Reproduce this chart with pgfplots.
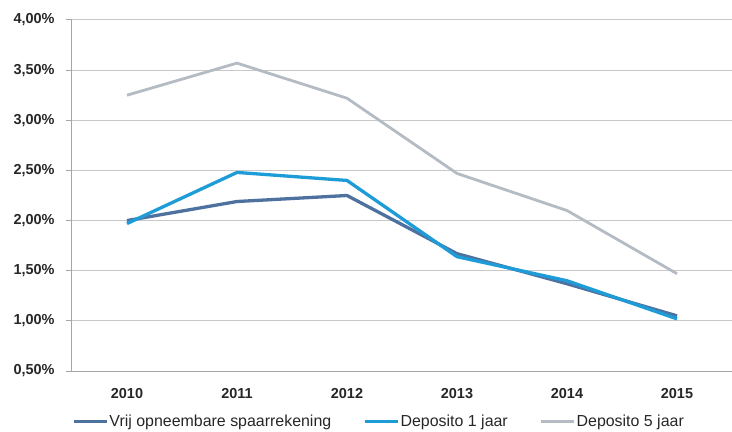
\documentclass[border=0pt]{standalone}
\usepackage{fontspec}
\setmainfont{Liberation Sans}
\usepackage{pgfplots}
\pgfplotsset{compat=1.18}
\definecolor{cdark}{HTML}{4E72A0}
\definecolor{clight}{HTML}{1E9CD7}
\definecolor{cgray}{HTML}{B4BBC3}
\definecolor{cgrid}{HTML}{C8C8C8}
\definecolor{caxis}{HTML}{A6A6A6}
\begin{document}
\begin{tikzpicture}
\begin{axis}[
  scale only axis,
  width=660bp, height=351bp,
  xmin=-0.5, xmax=5.5,
  ymin=0.5, ymax=4,
  axis x line*=bottom,
  axis y line*=left,
  axis line style={caxis, line width=1bp},
  xtick={0,1,2,3,4,5},
  xticklabels={2010,2011,2012,2013,2014,2015},
  ytick={0.5,1,1.5,2,2.5,3,3.5,4},
  yticklabels={{0,50\%},{1,00\%},{1,50\%},{2,00\%},{2,50\%},{3,00\%},{3,50\%},{4,00\%}},
  ymajorgrids,
  grid style={cgrid, line width=1bp},
  tick align=outside,
  major tick length=6bp,
  tick style={caxis, line width=1bp},
  xtick style={draw=none},
  extra x ticks={0.5,1.5,2.5,3.5,4.5},
  extra x tick labels={},
  extra x tick style={grid=none, tick style={caxis, line width=1bp, draw=caxis}, major tick length=6bp},
  ticklabel style={font=\bfseries\fontsize{14.5}{17}\selectfont, text=black!85},
  yticklabel style={xshift=-8bp},
  xticklabel style={yshift=-8bp},
  legend columns=3,
  legend style={at={(0.0,-0.143)}, anchor=west, draw=none, fill=none,
    font=\fontsize{16}{19}\selectfont, text=black!85,
    inner xsep=0pt, inner ysep=0pt,
    /tikz/every even column/.append style={column sep=31bp},
    nodes={inner xsep=1bp, inner ysep=1bp}},
  legend cell align=left,
  legend image code/.code={\draw[#1] (0bp,0bp) -- (33bp,0bp);},
]
\addplot[cdark, line width=3.3bp] coordinates {(0,2.00) (1,2.19) (2,2.25) (3,1.67) (4,1.37) (5,1.05)};
\addlegendentry{Vrij opneembare spaarrekening}
\addplot[clight, line width=3.3bp] coordinates {(0,1.97) (1,2.48) (2,2.40) (3,1.64) (4,1.40) (5,1.02)};
\addlegendentry{Deposito 1 jaar}
\addplot[cgray, line width=2.8bp] coordinates {(0,3.25) (1,3.57) (2,3.22) (3,2.47) (4,2.10) (5,1.47)};
\addlegendentry{Deposito 5 jaar}
\end{axis}
\pgfresetboundingbox
\path (-72bp,-61bp) rectangle (660bp,371bp);
\end{tikzpicture}
\end{document}
